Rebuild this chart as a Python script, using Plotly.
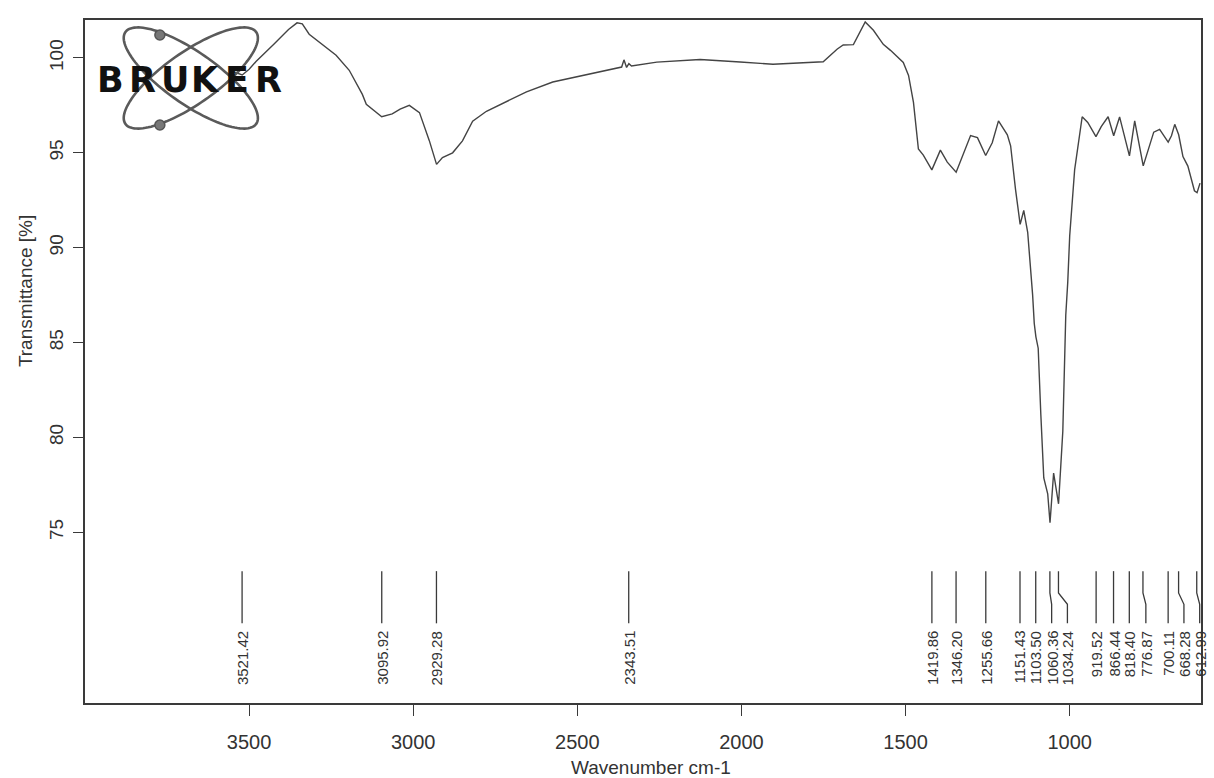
import numpy as np
import plotly.graph_objects as go

# ---------------- data ----------------
wavenumber = [3560, 3540, 3521, 3500, 3479, 3424, 3380, 3354, 3338, 3317, 3277, 3235,
              3195, 3155, 3143, 3096, 3064, 3040, 3012, 2981, 2951, 2929, 2911, 2880,
              2850, 2819, 2777, 2716, 2655, 2575, 2471, 2380, 2365, 2358, 2350, 2343,
              2335, 2258, 2126, 2004, 1904, 1751, 1708, 1690, 1659, 1623, 1598, 1568,
              1546, 1507, 1491, 1476, 1461, 1446, 1420, 1394, 1373, 1346, 1302, 1281,
              1256, 1236, 1217, 1190, 1180, 1165, 1151, 1140, 1128, 1113, 1108, 1103,
              1096, 1088, 1079, 1067, 1060, 1049, 1034, 1021, 1012, 1006, 1000, 985,
              962, 945, 920, 904, 883, 866, 848, 818, 802, 776, 744, 726, 700, 690,
              680, 668, 655, 640, 620, 612, 603]
transmittance = [99.35, 99.2, 99.1, 99.4, 99.81, 100.74, 101.5, 101.85, 101.8, 101.25, 100.72, 100.14,
                 99.35, 98.08, 97.56, 96.9, 97.05, 97.3, 97.5, 97.12, 95.64, 94.39, 94.75, 95.0,
                 95.63, 96.67, 97.19, 97.71, 98.21, 98.73, 99.13, 99.48, 99.52, 99.9, 99.5, 99.7,
                 99.58, 99.78, 99.92, 99.79, 99.67, 99.8, 100.47, 100.68, 100.7, 101.9, 101.46, 100.72,
                 100.4, 99.76, 99.08, 97.66, 95.2, 94.88, 94.1, 95.14, 94.51, 93.98, 95.91, 95.8,
                 94.86, 95.53, 96.68, 95.95, 95.37, 93.06, 91.23, 91.96, 90.81, 87.51, 86.0, 85.3,
                 84.7, 81.22, 77.86, 77.03, 75.5, 78.12, 76.5, 80.32, 86.45, 88.17, 90.63, 94.1,
                 96.9, 96.6, 95.85, 96.38, 96.9, 95.9, 96.89, 94.84, 96.68, 94.31, 96.09, 96.24, 95.56, 95.9,
                 96.5, 95.95, 94.8, 94.3, 93.0, 92.9, 93.4]

peak_positions = [3521.42, 3095.92, 2929.28, 2343.51, 1419.86, 1346.20, 1255.66, 1151.43,
                  1103.50, 1060.36, 1034.24, 919.52, 866.44, 818.40, 776.87, 700.11, 668.28, 612.99]
peak_labels = ["3521.42", "3095.92", "2929.28", "2343.51", "1419.86", "1346.20", "1255.66",
               "1151.43", "1103.50", "1060.36", "1034.24", "919.52", "866.44", "818.40",
               "776.87", "700.11", "668.28", "612.99"]
label_positions = [3521.42, 3095.92, 2929.28, 2343.51, 1419.86, 1346.20, 1255.66, 1151.43,
                   1103.50, 1055, 1007, 919.52, 866.44, 818.40, 768, 700.11, 652, 604]

x_ticks = [3500, 3000, 2500, 2000, 1500, 1000]
y_ticks = [75, 80, 85, 90, 95, 100]

# ---------------- styling / layout constants ----------------
W, H = 1214, 778
ML, MR, MT, MB = 85, 11, 20, 75
INK = "#3a3a3a"
FONT = "Liberation Sans, Arial, sans-serif"


def px2paper(px, py):
    return (px - ML) / (W - ML - MR), 1 - (py - MT) / (H - MT - MB)


fig = go.Figure()

fig.add_trace(go.Scatter(x=wavenumber, y=transmittance, mode="lines",
                         line=dict(color="#444444", width=1.4), hoverinfo="skip",
                         showlegend=False))

# peak marker lines (straight or bent leader lines)
Y_TOP, Y_B1, Y_B2, Y_BOT = 72.95, 71.8, 71.2, 70.2
for p, lab in zip(peak_positions, label_positions):
    if abs(p - lab) < 1:
        xs, ys = [p, p], [Y_TOP, Y_BOT]
    else:
        xs, ys = [p, p, lab, lab], [Y_TOP, Y_B1, Y_B2, Y_BOT]
    fig.add_trace(go.Scatter(x=xs, y=ys, mode="lines", line=dict(color=INK, width=1.3),
                             hoverinfo="skip", showlegend=False, cliponaxis=True))

for lab, txt in zip(label_positions, peak_labels):
    fig.add_annotation(x=lab, y=69.9, text=txt, textangle=-90, showarrow=False,
                       xanchor="center", yanchor="top",
                       font=dict(family=FONT, size=15, color="#333333"))

# axis titles
tx, ty = px2paper(652, 767)
fig.add_annotation(xref="paper", yref="paper", x=tx, y=ty, text="Wavenumber cm-1",
                   xanchor="center", yanchor="middle",
                   showarrow=False, font=dict(family=FONT, size=19, color="#333333"))
tx, ty = px2paper(25, 291)
fig.add_annotation(xref="paper", yref="paper", x=tx, y=ty, text="Transmittance [%]",
                   xanchor="center", yanchor="middle",
                   textangle=-90, showarrow=False, font=dict(family=FONT, size=19, color="#333333"))

# ---------------- BRUKER logo (decoration) ----------------
shapes = []
t = np.linspace(0, 2 * np.pi, 120)
for ang in (np.deg2rad(35), np.deg2rad(-35)):
    cx, cy, a, b = 191, 78, 80, 26
    ex = cx + a * np.cos(t) * np.cos(ang) - b * np.sin(t) * np.sin(ang)
    ey = cy + a * np.cos(t) * np.sin(ang) + b * np.sin(t) * np.cos(ang)
    pts = [px2paper(u, v) for u, v in zip(ex, ey)]
    path = "M " + " L ".join(f"{u:.5f},{v:.5f}" for u, v in pts) + " Z"
    shapes.append(dict(type="path", xref="paper", yref="paper", path=path,
                       line=dict(color="#5a5a5a", width=2.6), layer="above"))
for (dx, dy) in ((160, 35), (160, 125)):
    x0, y0 = px2paper(dx - 5, dy - 5)
    x1, y1 = px2paper(dx + 5, dy + 5)
    shapes.append(dict(type="circle", xref="paper", yref="paper", x0=x0, x1=x1, y0=y1, y1=y0,
                       fillcolor="#777777", line=dict(color="#555555", width=1.5), layer="above"))

for ch, cxp in zip("BRUKER", [111, 143, 175, 206, 237, 269]):
    lx, ly = px2paper(cxp, 80)
    fig.add_annotation(xref="paper", yref="paper", x=lx, y=ly, text=f"<b>{ch}</b>",
                       xanchor="center", yanchor="middle",
                       showarrow=False, font=dict(family="DejaVu Sans", size=35, color="#111111"))

fig.update_layout(
    width=W, height=H,
    margin=dict(l=ML, r=MR, t=MT, b=MB),
    paper_bgcolor="white", plot_bgcolor="white",
    shapes=shapes,
    xaxis=dict(range=[4000, 600], tickvals=x_ticks, ticktext=[str(v) for v in x_ticks],
               ticks="outside", ticklen=11, tickwidth=1.3, tickcolor=INK,
               showline=True, linecolor=INK, linewidth=1.6, mirror=True,
               showgrid=False, zeroline=False, ticklabelstandoff=9,
               tickfont=dict(family=FONT, size=20, color="#333333")),
    yaxis=dict(range=[66, 102], tickvals=y_ticks, ticktext=[str(v) for v in y_ticks],
               ticks="outside", ticklen=10, tickwidth=1.3, tickcolor=INK, tickangle=-90,
               showline=True, linecolor=INK, linewidth=1.6, mirror=True,
               showgrid=False, zeroline=False, ticklabelstandoff=3,
               tickfont=dict(family=FONT, size=19, color="#333333")),
)

fig.write_html("out.html")
